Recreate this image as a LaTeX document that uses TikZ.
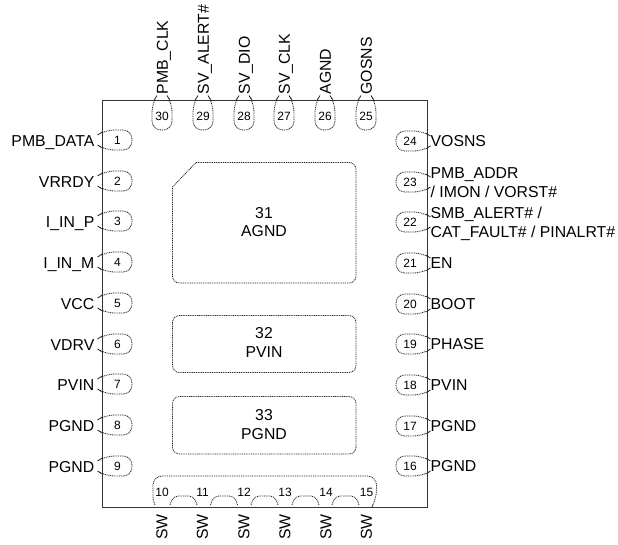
\documentclass[tikz,border=0pt]{standalone}
\usepackage{fontspec}
\setmainfont{Liberation Sans}
\begin{document}
\begin{tikzpicture}[x=1pt,y=-1pt,
   pinlabel/.style={inner sep=0pt,text height=11.5pt,text depth=0pt,font=\fontsize{15.8}{18}\selectfont},
   padnum/.style={inner sep=0pt,font=\fontsize{12}{14}\selectfont},
   padline/.style={dash pattern=on 1pt off 0.8pt,line width=0.8pt,black!85},
   exposed/.style={align=center,inner sep=0pt,font=\fontsize{15.8}{18.7}\selectfont}
  ]
  \useasboundingbox (0,0) rectangle (618,544);
  \node (body) [draw=black!80,line width=1.1pt,minimum width=325.5pt,minimum height=407pt,inner sep=0pt,anchor=north west] at (101.5,99.5) {};
  % left row
  \foreach \n/\y/\t in {1/140/PMB\_DATA,2/181/VRRDY,3/221/I\_IN\_P,4/262/I\_IN\_M,5/303/VCC,6/344/VDRV,7/384/PVIN,8/425/PGND,9/466/PGND}
  {
     \draw [padline,rounded corners=9pt] (102,\y-8) -- (105,\y-10) -- (132,\y-10) -- (132,\y+10) -- (105,\y+10) -- (102,\y+8);
     \node (pad\n) [padnum] at (117.5,\y) {\n};
     \node (pin\n) [pinlabel,anchor=east] at (94.5,\y+0.5) {\t};
  }
  % right row
  \foreach \n/\y/\t in {24/141/VOSNS,21/263/EN,20/304/BOOT,19/344/PHASE,18/385/PVIN,17/426/PGND,16/466/PGND,23/182/,22/222/}
  {
     \draw [padline,rounded corners=9pt] (426,\y-8) -- (423,\y-10) -- (396,\y-10) -- (396,\y+10) -- (423,\y+10) -- (426,\y+8);
     \node (pad\n) [padnum] at (410,\y) {\n};
     \node (pin\n) [pinlabel,anchor=west] at (430.5,\y) {\t};
  }
  \node (pin23a) [pinlabel,anchor=west] at (430.5,173) {PMB\_ADDR};
  \node (pin23b) [pinlabel,anchor=west] at (430.5,192) {/ IMON / VORST\#};
  \node (pin22a) [pinlabel,anchor=west] at (430.5,213) {SMB\_ALERT\# /};
  \node (pin22b) [pinlabel,anchor=west] at (430.5,232) {CAT\_FAULT\# / PINALRT\#};
  % top row
  \foreach \n/\x/\t in {30/162/PMB\_CLK,29/203/SV\_ALERT\#,28/244/SV\_DIO,27/284/SV\_CLK,26/325/AGND,25/366/GOSNS}
  {
     \draw [padline,rounded corners=9pt] (\x-8,100) -- (\x-10,103) -- (\x-10,130) -- (\x+10,130) -- (\x+10,103) -- (\x+8,100);
     \node (pad\n) [padnum] at (\x,116) {\n};
     \node (pin\n) [pinlabel,rotate=90,anchor=west] at (\x,94.5) {\t};
  }
  % bottom row, one outline
  \draw [padline,rounded corners=9pt] (155,505) [sharp corners] -- (153,499) [rounded corners=9pt] -- (153,476) -- (376.5,476) -- (376.5,499) [sharp corners] -- (373,505);
  \foreach \x in {170,210.5,251,292,332}
  {
     \draw [padline,rounded corners=5pt] (\x,505) -- (\x+3,496) -- (\x+24,496) -- (\x+27,505);
  }
  \foreach \n/\x in {10/162,11/202.5,12/244,13/285,14/326,15/366.5}
  {
     \node (pad\n) [padnum] at (\x,492) {\n};
     \node (pin\n) [pinlabel,rotate=90,anchor=east] at (\x-0.5,514) {SW};
  }
  % exposed pads
  \draw [padline,rounded corners=7pt] (196,162.5) -- (356,162.5) -- (356,283) -- (172.5,283) [sharp corners] -- (172.5,187) -- cycle;
  \node (ep31) [exposed] at (264,222) {31\\AGND};
  \draw [padline,rounded corners=7pt] (172.5,315.5) rectangle (356,372.5);
  \node (ep32) [exposed] at (264,342.5) {32\\PVIN};
  \draw [padline,rounded corners=7pt] (172.5,396.5) rectangle (356,454);
  \node (ep33) [exposed] at (264,424.5) {33\\PGND};
\end{tikzpicture}
\end{document}
